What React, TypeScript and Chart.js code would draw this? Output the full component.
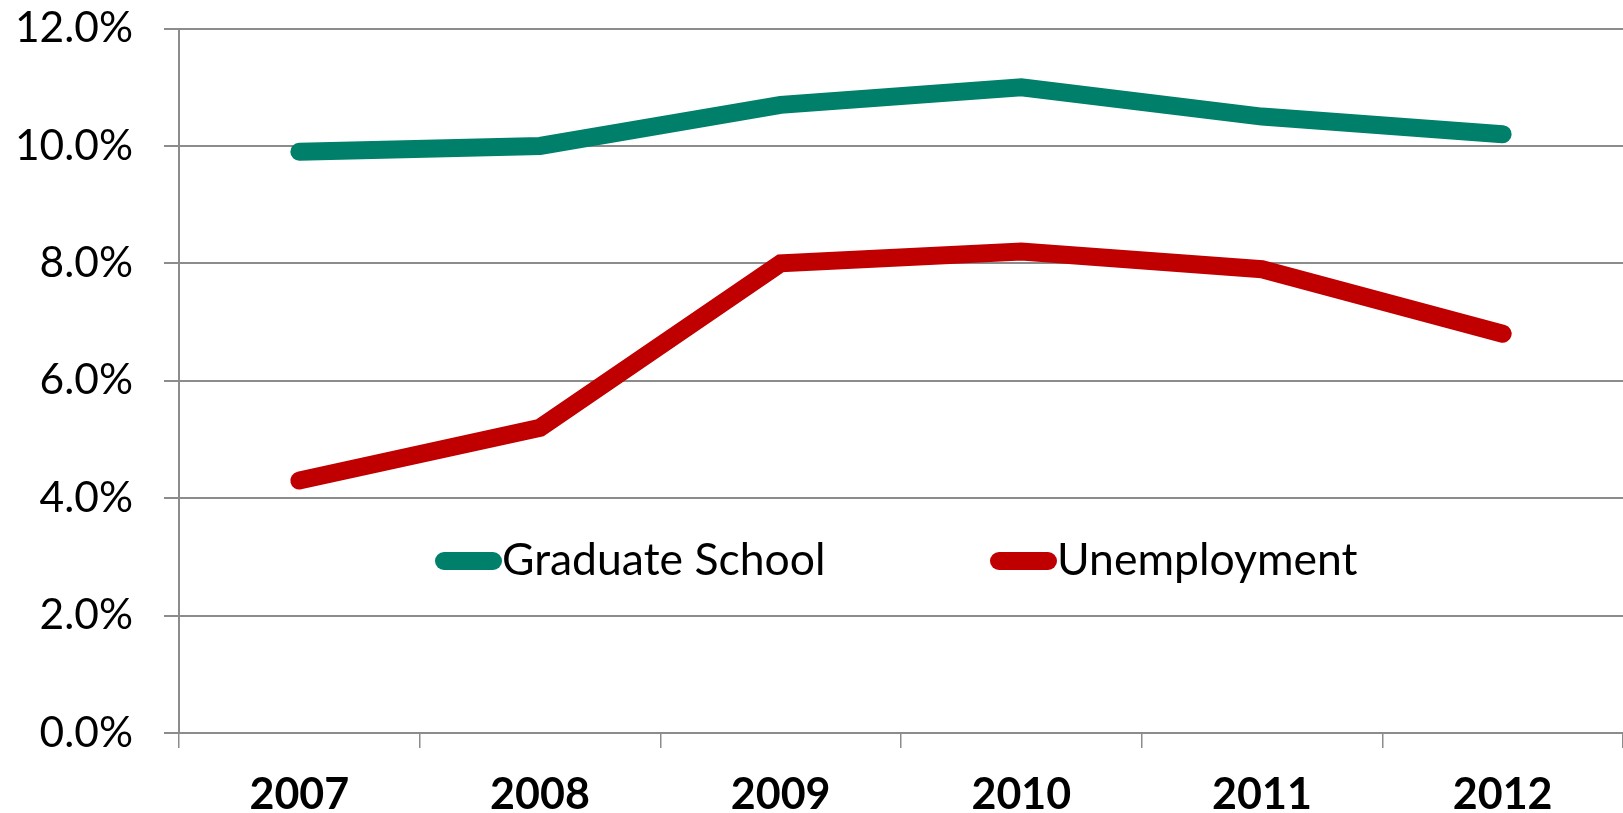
import React, { useEffect, useRef } from 'react';
import { Chart, registerables } from 'chart.js';

Chart.register(...registerables);

// ---- data ----
const years = ['2007', '2008', '2009', '2010', '2011', '2012'];
const graduateSchool = [9.9, 10.0, 10.7, 11.0, 10.5, 10.2];
const unemployment = [4.3, 5.2, 8.0, 8.2, 7.9, 6.8];
const seriesNames = ['Graduate School', 'Unemployment'];
const seriesColors = ['#00806A', '#C00000'];
const yMin = 0;
const yMax = 12;
const yStep = 2;

// ---- layout constants ----
const W = 1623;
const H = 813;
const FONT = 'Lato, "Open Sans", sans-serif';
const GRID = '#8C8C8C';
const legendItemX = [435, 990];
const legendY = 561;

const insideLegend = {
  id: 'insideLegend',
  afterDatasetsDraw(chart: any) {
    const ctx = chart.ctx as CanvasRenderingContext2D;
    ctx.save();
    chart.data.datasets.forEach((ds: any, i: number) => {
      const x0 = legendItemX[i];
      ctx.strokeStyle = ds.borderColor;
      ctx.lineWidth = 18;
      ctx.lineCap = 'round';
      ctx.beginPath();
      ctx.moveTo(x0 + 9, legendY);
      ctx.lineTo(x0 + 58, legendY);
      ctx.stroke();
      ctx.fillStyle = '#000';
      ctx.font = `44.5px ${FONT}`;
      ctx.textBaseline = 'middle';
      ctx.textAlign = 'left';
      ctx.fillText(ds.label, x0 + 67, legendY);
    });
    ctx.restore();
  },
};

export default function App() {
  const ref = useRef<HTMLCanvasElement>(null);
  useEffect(() => {
    if (!ref.current) return;
    const chart = new Chart(ref.current, {
      type: 'line',
      data: {
        labels: years,
        datasets: [
          {
            label: seriesNames[0],
            data: graduateSchool,
            borderColor: seriesColors[0],
            backgroundColor: seriesColors[0],
            borderWidth: 18,
            borderCapStyle: 'round',
            borderJoinStyle: 'miter',
            pointRadius: 0,
            tension: 0,
          },
          {
            label: seriesNames[1],
            data: unemployment,
            borderColor: seriesColors[1],
            backgroundColor: seriesColors[1],
            borderWidth: 18,
            borderCapStyle: 'round',
            borderJoinStyle: 'miter',
            pointRadius: 0,
            tension: 0,
          },
        ],
      },
      options: {
        animation: false,
        responsive: true,
        maintainAspectRatio: false,
        layout: { padding: 0 },
        plugins: {
          legend: { display: false },
          tooltip: { enabled: false },
        },
        scales: {
          x: {
            type: 'category',
            offset: true,
            afterFit: (s: any) => {
              s.height = 80;
              s.paddingLeft = 0;
              s.paddingRight = 0;
            },
            grid: {
              offset: true,
              drawOnChartArea: false,
              drawTicks: true,
              tickLength: 15,
              color: GRID,
              lineWidth: 1.5,
            },
            border: { display: true, color: GRID, width: 2 },
            ticks: {
              color: '#000',
              padding: 21,
              font: { family: FONT, size: 43, weight: 'bold' },
              maxRotation: 0,
            },
          },
          y: {
            min: yMin,
            max: yMax,
            afterFit: (s: any) => {
              s.width = 179;
              s.paddingTop = 28.5;
              s.paddingBottom = 0;
            },
            grid: {
              color: GRID,
              lineWidth: 2,
              tickLength: 15,
              drawTicks: true,
            },
            border: { display: true, color: GRID, width: 2 },
            ticks: {
              stepSize: yStep,
              color: '#000',
              padding: 31,
              font: { family: FONT, size: 42.5 },
              callback: (v: any) => `${Number(v).toFixed(1)}%`,
            },
          },
        },
      },
      plugins: [insideLegend],
    });
    return () => chart.destroy();
  }, []);
  return (
    <div style={{ position: 'fixed', left: 0, top: 0, width: W, height: H, background: '#fff' }}>
      <canvas ref={ref} />
    </div>
  );
}
